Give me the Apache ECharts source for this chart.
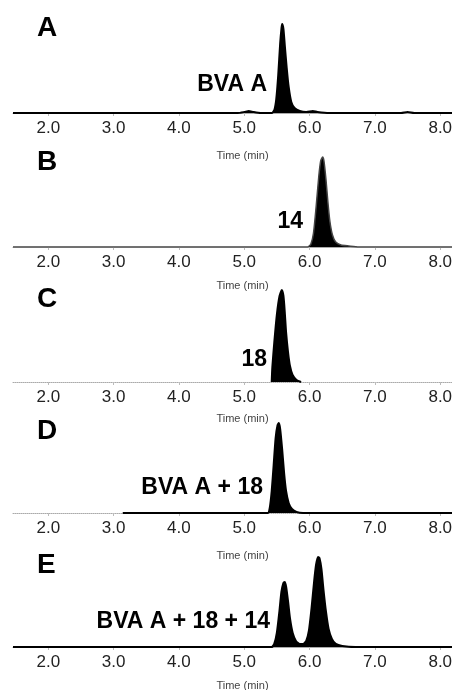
<!DOCTYPE html>
<html>
<head>
<meta charset="utf-8">
<script src="https://cdn.jsdelivr.net/npm/echarts@6/dist/echarts.min.js"></script>
<style>
  html, body { margin: 0; padding: 0; background: #fff; }
  #chart { width: 452px; height: 690px; }
</style>
</head>
<body>
<div id="chart"></div>
<script>
// tick labels of the time axis (min)
var tickValues = [2, 3, 4, 5, 6, 7, 8];
var panelLetters = ['A', 'B', 'C', 'D', 'E'];
var peakLabels = ['BVA A', '14', '18', 'BVA A + 18', 'BVA A + 18 + 14'];

// traces: [time (min), signal]
var traceA = [[1.46, 0], [4.9, 0], [5.0, 1], [5.07, 2], [5.14, 1], [5.25, 0], [5.42, 0], [5.46, 3], [5.49, 14],
    [5.52, 38], [5.55, 70], [5.57, 85], [5.58, 89], [5.60, 84], [5.62, 68], [5.65, 45], [5.68, 26], [5.72, 11],
    [5.77, 5], [5.85, 2], [5.95, 1], [6.05, 2], [6.12, 1], [6.3, 0], [7.4, 0], [7.5, 1], [7.6, 0], [8.18, 0]];
var traceB = [[1.46, 0], [5.97, 0], [6.02, 3], [6.06, 14], [6.10, 40], [6.14, 70], [6.17, 86], [6.20, 90],
    [6.22, 86], [6.25, 68], [6.28, 45], [6.31, 26], [6.35, 12], [6.40, 5], [6.48, 2], [6.6, 1], [6.75, 0], [8.18, 0]];
var traceC = [[5.42, 0], [5.43, 15], [5.46, 40], [5.50, 68], [5.54, 86], [5.575, 92], [5.60, 86], [5.62, 70],
    [5.64, 50], [5.67, 30], [5.70, 16], [5.74, 7], [5.80, 2], [5.87, 0]];
var traceD = [[3.14, 0], [5.36, 0], [5.39, 5], [5.42, 22], [5.45, 48], [5.48, 75], [5.51, 88], [5.53, 90],
    [5.55, 84], [5.58, 64], [5.61, 40], [5.64, 22], [5.68, 10], [5.73, 4], [5.80, 1], [5.9, 0], [8.18, 0]];
var traceE = [[1.46, 0], [5.42, 0], [5.46, 3], [5.50, 14], [5.54, 36], [5.57, 55], [5.60, 64], [5.62, 65],
    [5.64, 60], [5.67, 45], [5.70, 28], [5.74, 14], [5.79, 6], [5.85, 3], [5.90, 3], [5.95, 6], [5.99, 16],
    [6.03, 38], [6.07, 65], [6.10, 82], [6.13, 90], [6.15, 89], [6.18, 78], [6.21, 58], [6.25, 35], [6.29, 18],
    [6.34, 8], [6.40, 3], [6.5, 1], [6.7, 0], [8.18, 0]];

var traces = [traceA, traceB, traceC, traceD, traceE];

var chart = echarts.init(document.getElementById('chart'));

var gridTops = [18, 152, 287, 418, 552];
var nameGaps = [37, 33, 31, 37, 33];
var lineColors = ['#000', '#444', '#000', '#000', '#000'];
var lineWidths = [2, 1.5, 2, 2, 2.2];
var letterY = [28, 162, 299, 431, 565];
var labelPos = [[267, 85], [303, 222], [267, 360], [263, 488], [270, 622]];

var grids = [], xAxes = [], yAxes = [], series = [], graphics = [];

for (var i = 0; i < 5; i++) {
    grids.push({ left: 13, right: 0, top: gridTops[i], height: 95, outerBoundsMode: 'none', containLabel: false });
    xAxes.push({
        type: 'value', gridIndex: i, min: 1.46, max: 8.18,
        name: 'Time (min)', nameLocation: 'middle', nameGap: nameGaps[i],
        nameTextStyle: { fontFamily: 'Liberation Sans', fontSize: 11, color: '#444', padding: [0, 0, 0, 20] },
        axisLine: { lineStyle: { color: '#aaa', width: 1, type: (i == 2 || i == 3) ? 'dotted' : 'solid' } },
        axisTick: { show: true, customValues: tickValues, length: 3, lineStyle: { color: '#bbb' } },
        axisLabel: {
            customValues: tickValues, margin: 7,
            fontFamily: 'Liberation Sans', fontSize: 17, color: '#222',
            formatter: function (v) { return v.toFixed(1); }
        },
        splitLine: { show: false }
    });
    yAxes.push({ type: 'value', gridIndex: i, min: 0, max: 95, show: false });
    series.push({
        type: 'line', xAxisIndex: i, yAxisIndex: i,
        data: traces[i], showSymbol: false, smooth: 0.2,
        lineStyle: { color: lineColors[i], width: lineWidths[i] },
        areaStyle: { color: '#000', opacity: 1 },
        silent: true
    });
    graphics.push({
        type: 'text', left: 37, top: letterY[i] - 14,
        style: { text: panelLetters[i], font: 'bold 28px "Liberation Sans"', fill: '#000' }
    });
    graphics.push({
        type: 'text', x: labelPos[i][0], y: labelPos[i][1],
        style: {
            text: peakLabels[i], font: 'bold 23px "Liberation Sans"', fill: '#000',
            align: 'right', verticalAlign: 'middle'
        }
    });
}

chart.setOption({
    animation: false,
    grid: grids,
    xAxis: xAxes,
    yAxis: yAxes,
    series: series,
    graphic: graphics
});
</script>
</body>
</html>
